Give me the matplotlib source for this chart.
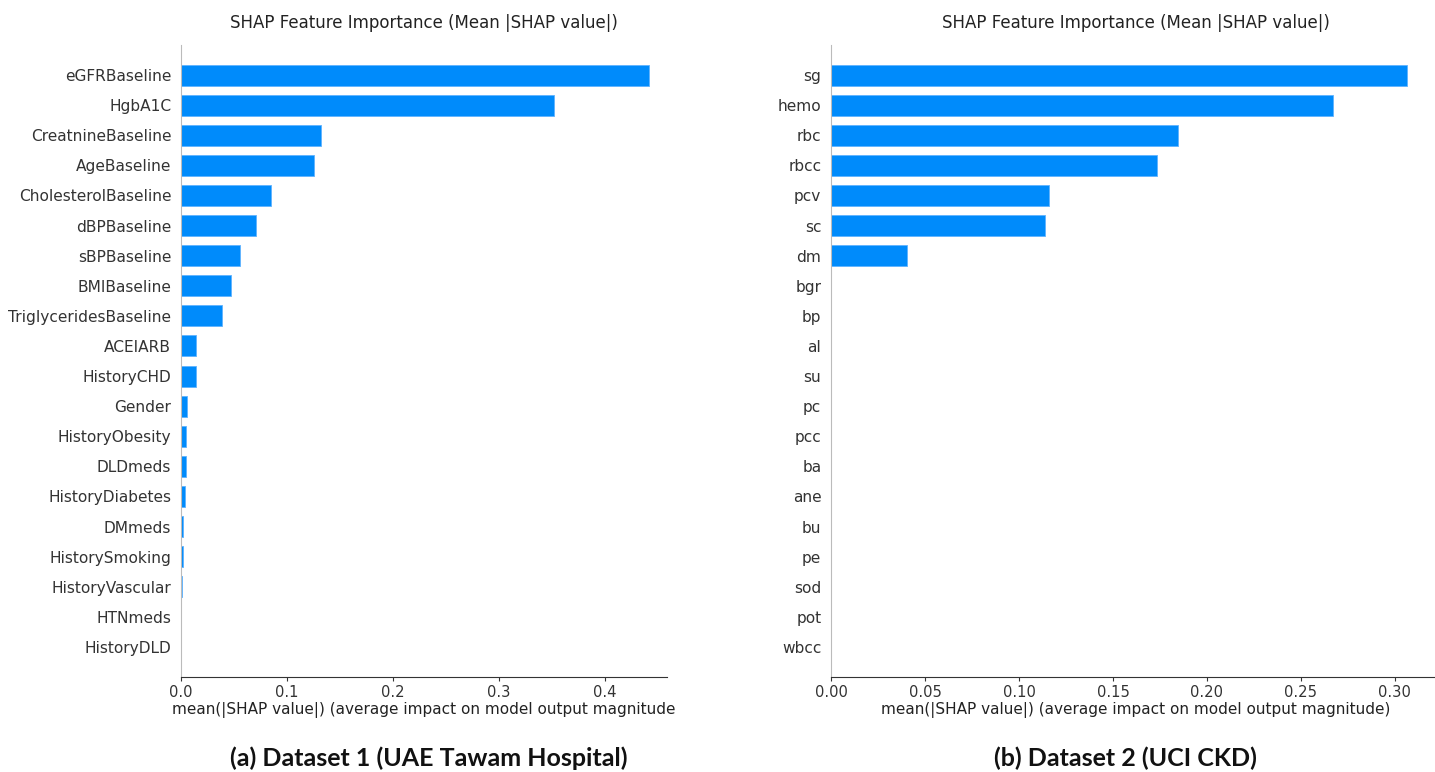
import matplotlib
matplotlib.use("Agg")
import matplotlib.pyplot as plt
import numpy as np

plt.rcParams["font.family"] = ["DejaVu Sans"]

# Dataset 1 (UAE Tawam Hospital): mean |SHAP value| per feature
features_a = [
    "eGFRBaseline", "HgbA1C", "CreatnineBaseline", "AgeBaseline",
    "CholesterolBaseline", "dBPBaseline", "sBPBaseline", "BMIBaseline",
    "TriglyceridesBaseline", "ACEIARB", "HistoryCHD", "Gender",
    "HistoryObesity", "DLDmeds", "HistoryDiabetes", "DMmeds",
    "HistorySmoking", "HistoryVascular", "HTNmeds", "HistoryDLD",
]
values_a = [
    0.442, 0.352, 0.1326, 0.126, 0.0851, 0.0712, 0.0558, 0.0473,
    0.0390, 0.0142, 0.0137, 0.0054, 0.0050, 0.0047, 0.0035, 0.0022,
    0.0022, 0.0012, 0.0003, 0.0002,
]
ticks_a = [0.0, 0.1, 0.2, 0.3, 0.4]
tick_labels_a = ["0.0", "0.1", "0.2", "0.3", "0.4"]

# Dataset 2 (UCI CKD): mean |SHAP value| per feature
features_b = [
    "sg", "hemo", "rbc", "rbcc", "pcv", "sc", "dm", "bgr", "bp", "al",
    "su", "pc", "pcc", "ba", "ane", "bu", "pe", "sod", "pot", "wbcc",
]
values_b = [
    0.3064, 0.2669, 0.1844, 0.1734, 0.1162, 0.1140, 0.0406, 0.0, 0.0, 0.0,
    0.0, 0.0, 0.0, 0.0, 0.0, 0.0, 0.0, 0.0, 0.0, 0.0,
]
ticks_b = [0.00, 0.05, 0.10, 0.15, 0.20, 0.25, 0.30]
tick_labels_b = ["0.00", "0.05", "0.10", "0.15", "0.20", "0.25", "0.30"]

title = "SHAP Feature Importance (Mean |SHAP value|)"
xlabel_a = "mean(|SHAP value|) (average impact on model output magnitude"
xlabel_b = "mean(|SHAP value|) (average impact on model output magnitude)"
caption_a = "(a) Dataset 1 (UAE Tawam Hospital)"
caption_b = "(b) Dataset 2 (UCI CKD)"

BAR_COLOR = "#008bfb"
W, H = 1435, 772
fig = plt.figure(figsize=(W / 100, H / 100), dpi=100)
fig.patch.set_facecolor("white")


def px_axes(x0, x1, y0, y1):
    return fig.add_axes([x0 / W, 1 - y1 / H, (x1 - x0) / W, (y1 - y0) / H])


def shap_bar(ax, names, vals, xmax, ticks, tick_labels, xlabel):
    n = len(names)
    ypos = np.arange(n)[::-1]
    ax.barh(ypos, vals, height=0.7, color=BAR_COLOR, edgecolor="#5fb3ff",
            linewidth=0.6, align="center")
    ax.set_ylim(-1, n)
    ax.set_xlim(0, xmax)
    ax.set_yticks(ypos)
    ax.set_yticklabels(names, fontsize=11.1, color="#333333")
    ax.set_xticks(ticks)
    ax.set_xticklabels(tick_labels, fontsize=10.6, color="#333333")
    ax.tick_params(axis="y", length=0, pad=7)
    ax.tick_params(axis="x", length=3, color="#333333", pad=3)
    for side in ("top", "right"):
        ax.spines[side].set_visible(False)
    ax.spines["left"].set_color("#bbbbbb")
    ax.spines["bottom"].set_color("#333333")
    ax.set_xlabel(xlabel, fontsize=11.0, color="#222222", labelpad=1)
    ax.set_title(title, fontsize=12.0, color="#222222", pad=12)


ax_a = px_axes(181, 667, 45, 677)
shap_bar(ax_a, features_a, values_a, 0.459, ticks_a, tick_labels_a, xlabel_a)

ax_b = px_axes(831, 1440, 45, 677)
shap_bar(ax_b, features_b, values_b, 0.324, ticks_b, tick_labels_b, xlabel_b)

fig.text(429 / W, 1 - 758 / H, caption_a, ha="center", va="center",
         fontsize=18, fontweight="bold", family="Lato", color="#111111")
fig.text(1125 / W, 1 - 758 / H, caption_b, ha="center", va="center",
         fontsize=18, fontweight="bold", family="Lato", color="#111111")

fig.savefig("out.png", dpi=100, facecolor="white")
